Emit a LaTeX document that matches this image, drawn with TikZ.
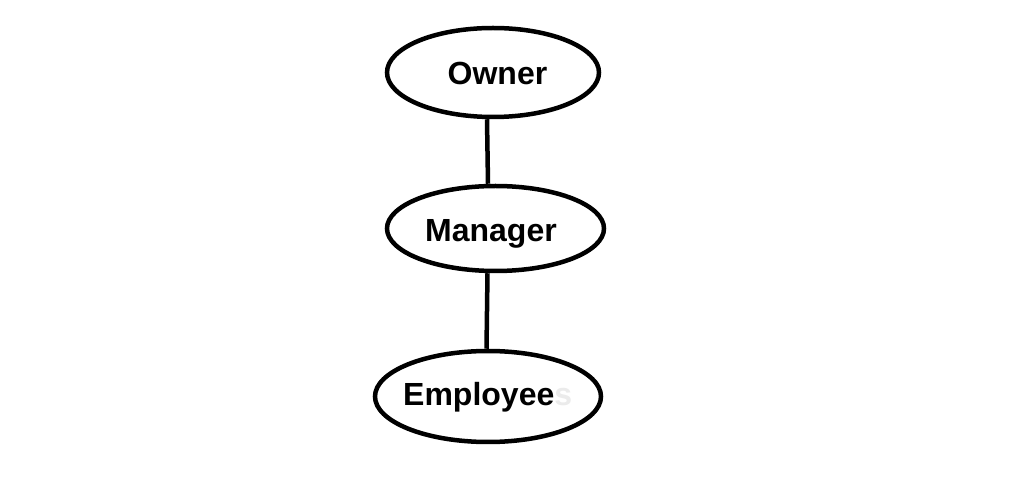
\documentclass[tikz,border=0pt]{standalone}
\usepackage{fontspec}
\setmainfont{Liberation Sans}
\usetikzlibrary{shapes.geometric}
\begin{document}
\begin{tikzpicture}[x=1pt,y=1pt,
  ell/.style={ellipse,draw=black,line width=4.5pt,inner sep=0pt},
  lbl/.style={anchor=base west,inner sep=0pt,font=\bfseries\fontsize{32}{32}\selectfont},
  conn/.style={line width=4.5pt}]
\useasboundingbox[fill=white] (0,0) rectangle (1029,482);
\node[ell,minimum width=212pt,minimum height=89pt] (owner) at (493,409.5) {};
\node[ell,minimum width=217pt,minimum height=85pt] (manager) at (495.5,253.5) {};
\node[ell,minimum width=226pt,minimum height=91pt] (employees) at (488,85.5) {};
\node[lbl] (ownerT) at (447.5,397) {Owner};
\node[lbl] (managerT) at (425,240) {Manager};
\node[lbl] (employeesT) at (403,76) {Employee\textcolor{black!8}{s}};
\draw[conn] ([xshift=-6pt]owner.south) -- ([xshift=-7.5pt]manager.north);
\draw[conn] ([xshift=-8pt]manager.south) -- ([xshift=-1.5pt]employees.north);
\end{tikzpicture}
\end{document}
